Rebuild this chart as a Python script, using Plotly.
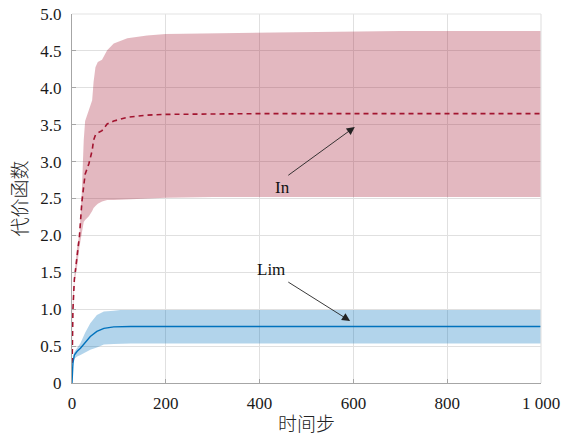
import plotly.graph_objects as go

# ---- data ----
x_in = [0, 2, 5, 11, 16, 21, 25, 28, 36, 43, 46, 50, 55, 64, 75, 89, 118, 160, 200,
        300, 400, 500, 600, 700, 800, 900, 1000]
in_mean = [0.15, 1.0, 1.40, 1.76, 2.0, 2.45, 2.7, 2.83, 2.97, 3.15, 3.29, 3.36, 3.39, 3.42,
           3.51, 3.55, 3.60, 3.63, 3.64, 3.65, 3.65, 3.65, 3.65, 3.65, 3.65, 3.65, 3.65]
in_upper = [0.15, 1.15, 1.45, 1.85, 2.02, 2.6, 3.29, 3.55, 3.7, 3.83, 4.08, 4.28, 4.35, 4.38,
            4.51, 4.6, 4.67, 4.71, 4.73, 4.74, 4.75, 4.76, 4.76, 4.77, 4.77, 4.77, 4.77]
in_lower = [0.15, 0.9, 1.35, 1.58, 1.85, 2.05, 2.18, 2.21, 2.26, 2.33, 2.37, 2.4, 2.43, 2.46,
            2.48, 2.48, 2.49, 2.5, 2.51, 2.52, 2.52, 2.52, 2.52, 2.52, 2.52, 2.52, 2.52]

x_lim = [0, 1, 2, 5, 11, 18, 28, 39, 53, 68, 89, 103, 125, 160, 200,
         300, 400, 500, 600, 700, 800, 900, 1000]
lim_mean = [0.0, 0.15, 0.27, 0.38, 0.43, 0.47, 0.54, 0.63, 0.70, 0.74, 0.76, 0.765, 0.765,
            0.765, 0.765, 0.765, 0.765, 0.765, 0.765, 0.765, 0.765, 0.765, 0.765]
lim_upper = [0.0, 0.2, 0.34, 0.42, 0.47, 0.54, 0.68, 0.81, 0.92, 0.97, 0.98, 0.99, 0.99,
             0.99, 0.99, 0.99, 0.99, 0.99, 0.99, 0.99, 0.99, 0.99, 0.99]
lim_lower = [0.0, 0.1, 0.22, 0.33, 0.36, 0.38, 0.41, 0.45, 0.48, 0.52, 0.53, 0.535, 0.535,
             0.535, 0.535, 0.535, 0.535, 0.535, 0.535, 0.535, 0.535, 0.535, 0.535]

x_ticks = [0, 200, 400, 600, 800, 1000]
x_ticktext = ["0", "200", "400", "600", "800", "1 000"]
y_ticks = [0, 0.5, 1.0, 1.5, 2.0, 2.5, 3.0, 3.5, 4.0, 4.5, 5.0]
y_ticktext = ["0", "0.5", "1.0", "1.5", "2.0", "2.5", "3.0", "3.5", "4.0", "4.5", "5.0"]

FONT = "Liberation Serif"
CJK = "Noto Sans CJK SC"

fig = go.Figure()
# In band
fig.add_trace(go.Scatter(x=x_in, y=in_upper, mode="lines", line=dict(width=0),
                         showlegend=False, hoverinfo="skip"))
fig.add_trace(go.Scatter(x=x_in, y=in_lower, mode="lines", line=dict(width=0),
                         fill="tonexty", fillcolor="rgba(162,20,47,0.3)",
                         showlegend=False, hoverinfo="skip"))
# Lim band
fig.add_trace(go.Scatter(x=x_lim, y=lim_upper, mode="lines", line=dict(width=0),
                         showlegend=False, hoverinfo="skip"))
fig.add_trace(go.Scatter(x=x_lim, y=lim_lower, mode="lines", line=dict(width=0),
                         fill="tonexty", fillcolor="rgba(0,114,189,0.3)",
                         showlegend=False, hoverinfo="skip"))
# mean lines
fig.add_trace(go.Scatter(x=x_in, y=in_mean, mode="lines",
                         line=dict(color="#a2142f", width=1.6, dash="5px,4px"),
                         showlegend=False))
fig.add_trace(go.Scatter(x=x_lim, y=lim_mean, mode="lines",
                         line=dict(color="#0072bd", width=1.4),
                         showlegend=False))

axis_common = dict(
    showgrid=True, gridcolor="#e0e0e0", gridwidth=1,
    showline=True, linecolor="#a6a6a6", linewidth=1.2,
    ticks="inside", ticklen=4, tickcolor="#a6a6a6",
    tickfont=dict(family=FONT, size=17, color="#1a1a1a"),
    zeroline=False, layer="above traces", automargin=False,
)

fig.update_layout(
    width=568, height=436,
    margin=dict(l=72, r=27, t=14, b=53),
    paper_bgcolor="white", plot_bgcolor="white",
    xaxis=dict(range=[0, 1000], tickvals=x_ticks, ticktext=x_ticktext,
               ticklabelstandoff=4, **axis_common),
    yaxis=dict(range=[0, 5], tickvals=y_ticks, ticktext=y_ticktext,
               ticklabelstandoff=6, **axis_common),
    shapes=[
        dict(type="line", xref="paper", yref="paper", x0=0, x1=1, y0=1, y1=1,
             line=dict(color="#e3e3e3", width=1.2), layer="above"),
        dict(type="line", xref="paper", yref="paper", x0=1, x1=1, y0=0, y1=1,
             line=dict(color="#e3e3e3", width=1.2), layer="above"),
    ],
    annotations=[
        dict(text="代价函数", xref="paper", yref="paper", x=-0.115, y=0.5,
             textangle=-90, showarrow=False, xanchor="center", yanchor="middle",
             font=dict(family=CJK, size=19, color="#222", weight=300)),
        dict(text="时间步", xref="paper", yref="paper", x=0.5, y=-0.106,
             showarrow=False, xanchor="center", yanchor="middle",
             font=dict(family=CJK, size=19, color="#222", weight=300)),
        dict(text="In", x=449, y=2.65, xref="x", yref="y", showarrow=False,
             font=dict(family=FONT, size=17, color="#111")),
        dict(text="Lim", x=424, y=1.54, xref="x", yref="y", showarrow=False,
             font=dict(family=FONT, size=17, color="#111")),
        dict(text="", x=603, y=3.47, ax=458, ay=2.80, xref="x", yref="y",
             axref="x", ayref="y", showarrow=True, arrowhead=2, arrowsize=1.8,
             arrowwidth=0.9, arrowcolor="#222"),
        dict(text="", x=593, y=0.84, ax=458, ay=1.38, xref="x", yref="y",
             axref="x", ayref="y", showarrow=True, arrowhead=2, arrowsize=1.8,
             arrowwidth=0.9, arrowcolor="#222"),
    ],
)

fig.write_html("out.html")
